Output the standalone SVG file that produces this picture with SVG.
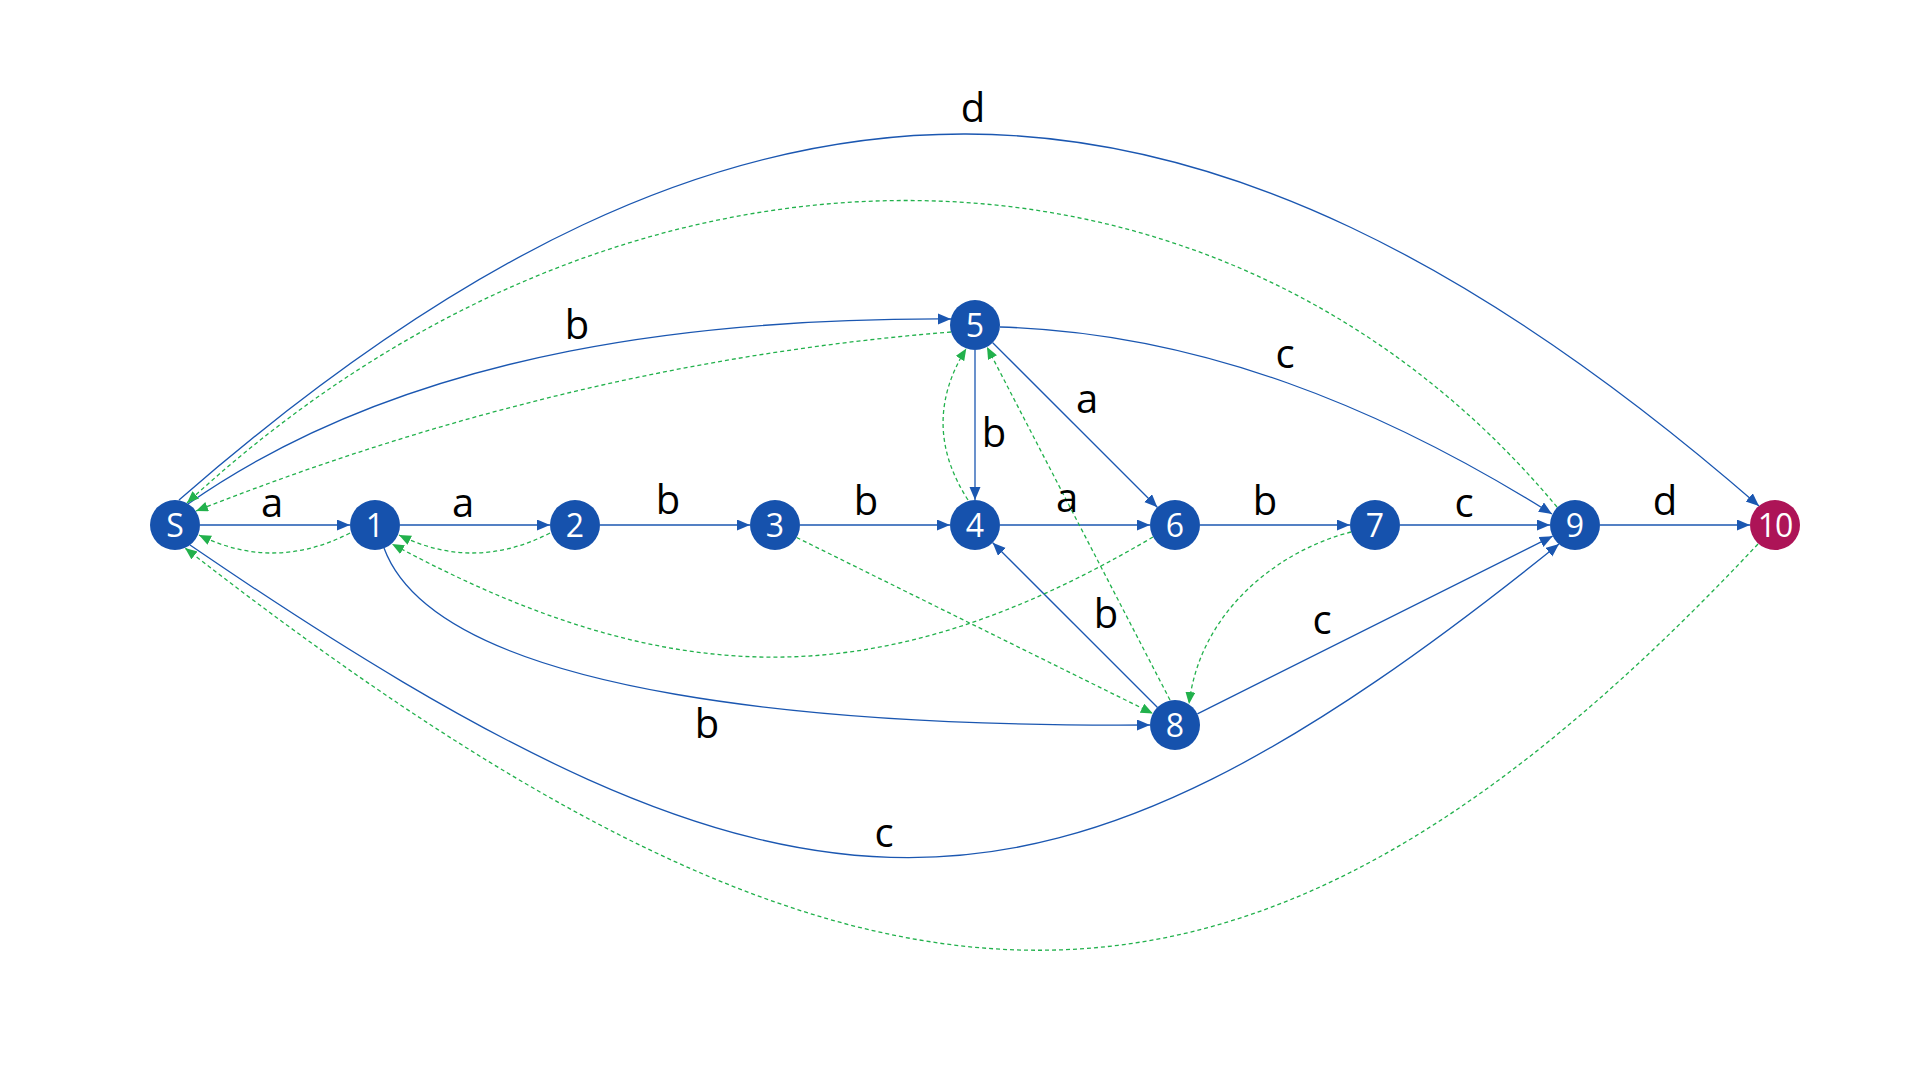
<svg xmlns="http://www.w3.org/2000/svg" width="1920" height="1080" viewBox="0 0 1920 1080">
<defs>
<style>
.e{fill:none;stroke:#1b57b1;stroke-width:1.3;marker-end:url(#ab)}
.f{fill:none;stroke:#22b14c;stroke-width:1.3;stroke-dasharray:4 3;marker-end:url(#ag)}
.n{fill:#1652ad}
.r{fill:#ad1457}
.t{font-family:"Open Sans","Noto Sans",sans-serif;font-size:32px;fill:#ffffff;text-anchor:middle}
.l{font-family:"Open Sans","Noto Sans",sans-serif;font-size:40px;fill:#000000;text-anchor:middle}
</style>
<marker id="ab" markerWidth="14" markerHeight="12" refX="13" refY="5.5" orient="auto" markerUnits="userSpaceOnUse"><path d="M0,0 L13,5.5 L0,11 z" fill="#1b57b1"/></marker>
<marker id="ag" markerWidth="13" markerHeight="11" refX="12" refY="5" orient="auto" markerUnits="userSpaceOnUse"><path d="M0,0 L12,5 L0,10 z" fill="#22b14c"/></marker>
</defs>
<rect width="1920" height="1080" fill="#ffffff"/>
<g id="connectors">
<path class="e" d="M200,525 L350,525"/>
<path class="e" d="M400,525 L550,525"/>
<path class="e" d="M600,525 L750,525"/>
<path class="e" d="M800,525 L950,525"/>
<path class="e" d="M1000,525 L1150,525"/>
<path class="e" d="M1200,525 L1350,525"/>
<path class="e" d="M1400,525 L1550,525"/>
<path class="e" d="M1600,525 L1750,525"/>
<path class="e" d="M975,350 L975,500"/>
<path class="e" d="M992.7,342.7 L1157.3,507.3"/>
<path class="e" d="M1157.3,707.3 L992.7,542.7"/>
<path class="e" d="M1197.4,713.8 L1552.6,536.2"/>
<path class="e" d="M188,504 C417,344 722,318 951,319"/>
<path class="e" d="M1000,327 C1200,333 1383,408 1552,514"/>
<path class="e" d="M179,500 C740,11 1190,11 1759,506"/>
<path class="e" d="M384,548 C440,700 850,727 1150,725"/>
<path class="e" d="M190,545 C800,962 1040,962 1559,544"/>
<path class="f" d="M350,533 Q274,572 199,535"/>
<path class="f" d="M550,533 Q474,572 399,535"/>
<path class="f" d="M951,332 Q573,362 196,511"/>
<path class="f" d="M1557,507 C1217,99 623,99 187,503"/>
<path class="f" d="M1153,537 C883,696 674,696 392,544"/>
<path class="f" d="M796.6,537.5 L1152.8,713.5"/>
<path class="f" d="M968,500 Q919,424 966.3,348.4"/>
<path class="f" d="M1170,700 L987,347"/>
<path class="f" d="M1351,532 C1280,550 1200,610 1189,704"/>
<path class="f" d="M1758,544 C1250,1085 874,1085 185,548"/>
</g>
<g id="labels">
<text class="l" x="973" y="122">d</text>
<text class="l" x="577" y="339">b</text>
<text class="l" x="1285" y="368">c</text>
<text class="l" x="1087" y="413">a</text>
<text class="l" x="994" y="447">b</text>
<text class="l" x="272" y="517">a</text>
<text class="l" x="463" y="517">a</text>
<text class="l" x="668" y="514">b</text>
<text class="l" x="866" y="515">b</text>
<text class="l" x="1067" y="512">a</text>
<text class="l" x="1265" y="515">b</text>
<text class="l" x="1464" y="517">c</text>
<text class="l" x="1665" y="515">d</text>
<text class="l" x="1106" y="628">b</text>
<text class="l" x="1322" y="634">c</text>
<text class="l" x="707" y="738">b</text>
<text class="l" x="884" y="847">c</text>
</g>
<g id="node-S"><circle class="n" cx="175" cy="525" r="25"/><text class="t" x="175" y="537">S</text></g>
<g id="node-1"><circle class="n" cx="375" cy="525" r="25"/><text class="t" x="375" y="537">1</text></g>
<g id="node-2"><circle class="n" cx="575" cy="525" r="25"/><text class="t" x="575" y="537">2</text></g>
<g id="node-3"><circle class="n" cx="775" cy="525" r="25"/><text class="t" x="775" y="537">3</text></g>
<g id="node-4"><circle class="n" cx="975" cy="525" r="25"/><text class="t" x="975" y="537">4</text></g>
<g id="node-5"><circle class="n" cx="975" cy="325" r="25"/><text class="t" x="975" y="337">5</text></g>
<g id="node-6"><circle class="n" cx="1175" cy="525" r="25"/><text class="t" x="1175" y="537">6</text></g>
<g id="node-7"><circle class="n" cx="1375" cy="525" r="25"/><text class="t" x="1375" y="537">7</text></g>
<g id="node-8"><circle class="n" cx="1175" cy="725" r="25"/><text class="t" x="1175" y="737">8</text></g>
<g id="node-9"><circle class="n" cx="1575" cy="525" r="25"/><text class="t" x="1575" y="537">9</text></g>
<g id="node-10"><circle class="r" cx="1775" cy="525" r="25"/><text class="t" x="1775" y="537" letter-spacing="-1">10</text></g>
</svg>
